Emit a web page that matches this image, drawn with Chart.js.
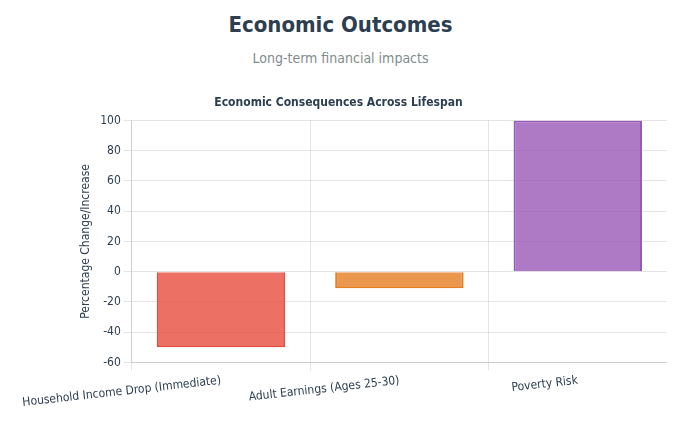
<!DOCTYPE html>
<html>
<head>
<meta charset="utf-8">
<script src="https://cdn.jsdelivr.net/npm/chart.js@4/dist/chart.umd.min.js"></script>
<style>
  html, body { margin: 0; padding: 0; background: #ffffff; }
  body { width: 681px; height: 427px; overflow: hidden; font-family: "DejaVu Sans Condensed", "DejaVu Sans", sans-serif; }
  h1 { margin: 0; position: absolute; top: 10px; left: 0; width: 681px; text-align: center; font-size: 22px; line-height: 30px; font-weight: bold; color: #2c3e50; }
  .sub { margin: 0; position: absolute; top: 48px; left: 0; width: 681px; text-align: center; font-size: 14px; line-height: 20px; color: #7f8c8d; }
  .wrap { position: absolute; left: 10px; top: 86px; width: 657px; height: 327px; }
</style>
</head>
<body>
<h1>Economic Outcomes</h1>
<p class="sub">Long-term financial impacts</p>
<div class="wrap"><canvas id="c"></canvas></div>
<script>
const categories = ["Household Income Drop (Immediate)", "Adult Earnings (Ages 25-30)", "Poverty Risk"];
const values = [-50, -11, 100];
const fillColors = ["rgba(231, 76, 60, 0.8)", "rgba(230, 126, 34, 0.8)", "rgba(155, 89, 182, 0.8)"];
const borderColors = ["#e74c3c", "#e67e22", "#9b59b6"];

Chart.defaults.font.family = '"DejaVu Sans Condensed", "DejaVu Sans", sans-serif';
Chart.defaults.color = '#2c3e50';

new Chart(document.getElementById('c'), {
  type: 'bar',
  data: {
    labels: categories,
    datasets: [{
      label: 'Impact',
      data: values,
      backgroundColor: fillColors,
      borderColor: borderColors,
      borderWidth: 2
    }]
  },
  options: {
    responsive: true,
    maintainAspectRatio: false,
    animation: false,
    plugins: {
      legend: { display: false },
      title: {
        display: true,
        text: 'Economic Consequences Across Lifespan',
        font: { size: 12, weight: 'bold' },
        color: '#2c3e50'
      }
    },
    scales: {
      y: {
        min: -60,
        max: 100,
        ticks: { stepSize: 20, color: '#2c3e50', font: { size: 12 } },
        title: { display: true, text: 'Percentage Change/Increase', color: '#2c3e50', font: { size: 12 } },
        grid: { color: 'rgba(0,0,0,0.1)' }
      },
      x: {
        ticks: { color: '#2c3e50', font: { size: 12 } },
        grid: { color: 'rgba(0,0,0,0.1)' }
      }
    }
  }
});
</script>
</body>
</html>
